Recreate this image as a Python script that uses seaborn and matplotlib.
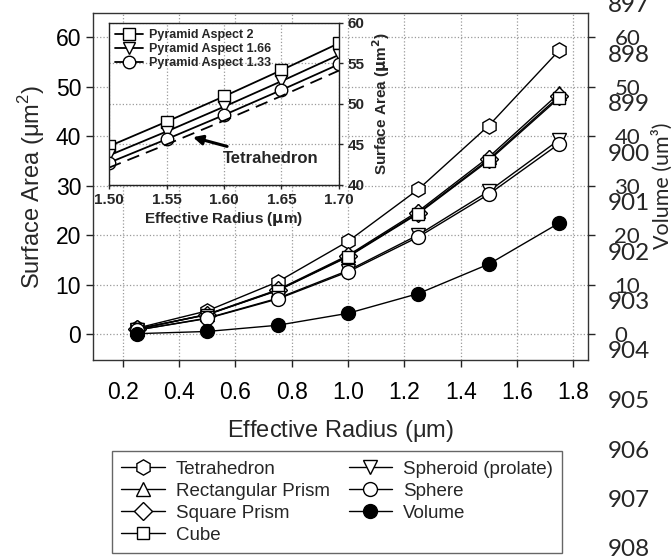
import matplotlib
matplotlib.use("Agg")
import matplotlib.pyplot as plt
import seaborn as sns
import pandas as pd

# ---------------- data ----------------
radius = [0.25, 0.50, 0.75, 1.00, 1.25, 1.50, 1.75]
tetrahedron = [1.17, 4.68, 10.54, 18.73, 29.27, 42.14, 57.36]
rect_prism = [0.99, 3.98, 8.94, 15.90, 24.84, 35.78, 48.69]
square_prism = [0.98, 3.93, 8.83, 15.70, 24.53, 35.33, 48.08]
cube = [0.97, 3.90, 8.77, 15.59, 24.36, 35.08, 47.75]
spheroid = [0.80, 3.21, 7.22, 12.83, 20.05, 28.87, 39.29]
sphere = [0.79, 3.14, 7.07, 12.57, 19.63, 28.27, 38.48]
volume = [0.07, 0.52, 1.77, 4.19, 8.18, 14.14, 22.45]
series_names = ["Tetrahedron", "Rectangular Prism", "Square Prism", "Cube",
                "Spheroid (prolate)", "Sphere", "Volume"]

inset_radius = [1.50, 1.55, 1.60, 1.65, 1.70]
pyramid_2 = [44.78, 47.81, 50.94, 54.18, 57.51]
pyramid_166 = [43.65, 46.60, 49.66, 52.82, 56.07]
pyramid_133 = [42.75, 45.65, 48.64, 51.73, 54.91]
inset_tetrahedron = [42.14, 45.00, 47.95, 50.99, 54.13]
inset_names = ["Pyramid Aspect 2", "Pyramid Aspect 1.66", "Pyramid Aspect 1.33"]

x_ticks = [0.2, 0.4, 0.6, 0.8, 1.0, 1.2, 1.4, 1.6, 1.8]
x_tick_labels = ["0.2", "0.4", "0.6", "0.8", "1.0", "1.2", "1.4", "1.6", "1.8"]
y_ticks = [0, 10, 20, 30, 40, 50, 60]
volume_ticks = [0, 10, 20, 30, 40, 50, 60]
inset_x_ticks = [1.50, 1.55, 1.60, 1.65, 1.70]
inset_x_labels = ["1.50", "1.55", "1.60", "1.65", "1.70"]
inset_y_ticks = [40, 45, 50, 55, 60]
line_numbers = ["897", "898", "899", "900", "901", "902", "903", "904",
                "905", "906", "907", "908"]

main_df = pd.DataFrame({
    "radius": radius * 7,
    "value": tetrahedron + rect_prism + square_prism + cube + spheroid + sphere + volume,
    "series": [n for n in series_names for _ in radius],
})
inset_df = pd.DataFrame({
    "radius": inset_radius * 4,
    "value": pyramid_2 + pyramid_166 + pyramid_133 + inset_tetrahedron,
    "series": [n for n in inset_names + ["Tetrahedron"] for _ in inset_radius],
})

# ---------------- style ----------------
sns.set_style("ticks")
plt.rcParams["font.family"] = ["Liberation Sans", "DejaVu Sans"]
plt.rcParams["mathtext.fontset"] = "custom"
plt.rcParams["mathtext.rm"] = "Liberation Sans"

fig = plt.figure(figsize=(6.72, 5.56), dpi=100)
W, H = 672, 556
ax = fig.add_axes([93 / W, 1 - 360 / H, (588 - 93) / W, (360 - 13) / H])

markers = {"Tetrahedron": "h", "Rectangular Prism": "^", "Square Prism": "D",
           "Cube": "s", "Spheroid (prolate)": "v", "Sphere": "o", "Volume": "o"}
msizes = {"Tetrahedron": 11, "Rectangular Prism": 10, "Square Prism": 9,
          "Cube": 8.5, "Spheroid (prolate)": 10, "Sphere": 10, "Volume": 10}

for name in series_names:
    sub = main_df[main_df["series"] == name]
    sns.lineplot(data=sub, x="radius", y="value", ax=ax, color="black",
                 linewidth=1.0, marker=markers[name], markersize=msizes[name],
                 markerfacecolor="black" if name == "Volume" else "white",
                 markeredgecolor="black", markeredgewidth=1.0, label=name)

handles, labels = ax.get_legend_handles_labels()
ax.get_legend().remove()

ax.set_xlim(0.095, 1.852)
ax.set_ylim(-5.25, 64.9)
ax.set_xticks(x_ticks)
ax.set_xticklabels(x_tick_labels)
ax.set_yticks(y_ticks)
ax.grid(True, linestyle=":", color="#9a9a9a", linewidth=0.9)
ax.tick_params(axis="both", direction="out", length=5, width=1,
               labelsize=16.5, colors="#222222", labelcolor="black", right=True)
ax.tick_params(axis="x", pad=10)
for s in ax.spines.values():
    s.set_visible(True)
    s.set_color("#333333")
    s.set_linewidth(1.0)
ax.set_xlabel("Effective Radius ($\\mathrm{\\mu}$m)", fontsize=17, labelpad=10)
ax.set_ylabel("Surface Area ($\\mathrm{\\mu}$m$^2$)", fontsize=17, labelpad=6)

# right "Volume" axis
ax2 = ax.twinx()
ax2.set_ylim(ax.get_ylim())
ax2.set_yticks(volume_ticks)
ax2.set_yticklabels([str(v) for v in volume_ticks], fontfamily="Lato", fontsize=16)
ax2.tick_params(axis="y", direction="out", length=5, width=1, pad=14)
for s in ax2.spines.values():
    s.set_visible(False)
fig.text(662 / W, 1 - 186 / H, "Volume (um³)", rotation=90, ha="center",
         va="center", fontsize=15.5, fontfamily="Lato")

for i, num in enumerate(line_numbers):
    fig.text(629 / W, 1 - (5.5 + 49.5 * i) / H, num, ha="center", va="center",
             fontsize=17.5, fontfamily="Lato")

# legend below
fig.legend(handles, labels, loc="upper left", bbox_to_anchor=(112 / W, 1 - 451 / H),
           ncol=2, fontsize=13.5, frameon=True, fancybox=False, edgecolor="#666666",
           framealpha=1, handlelength=2.3, handletextpad=0.6, columnspacing=1.0,
           labelspacing=0.26, borderpad=0.5, borderaxespad=0)

# ---------------- inset ----------------
axin = fig.add_axes([109 / W, 1 - 185 / H, (339 - 109) / W, (185 - 23) / H])
axin.set_facecolor("white")
in_markers = {"Pyramid Aspect 2": "s", "Pyramid Aspect 1.66": "v", "Pyramid Aspect 1.33": "o"}
for name in inset_names:
    sub = inset_df[inset_df["series"] == name]
    sns.lineplot(data=sub, x="radius", y="value", ax=axin, color="black",
                 linewidth=1.3, marker=in_markers[name], markersize=9,
                 markerfacecolor="white", markeredgecolor="black",
                 markeredgewidth=1.0, label=name)
sub = inset_df[inset_df["series"] == "Tetrahedron"]
sns.lineplot(data=sub, x="radius", y="value", ax=axin, color="black",
             linewidth=1.3, linestyle=(0, (7, 4)), legend=False)

axin.set_xlim(1.5, 1.7)
axin.set_ylim(40, 60)
axin.set_xticks(inset_x_ticks)
axin.set_xticklabels(inset_x_labels)
axin.set_yticks(inset_y_ticks)
axin.yaxis.tick_right()
axin.yaxis.set_label_position("right")
axin.grid(True, linestyle=":", color="#9a9a9a", linewidth=0.9)
axin.tick_params(axis="both", direction="out", length=3, width=1, labelsize=11,
                 pad=3)
for lab in axin.get_xticklabels() + axin.get_yticklabels():
    lab.set_fontweight("bold")
for s in axin.spines.values():
    s.set_visible(True)
    s.set_color("#222222")
    s.set_linewidth(1.0)
axin.set_xlabel("Effective Radius ($\\mathbf{\\mu}$m)", fontsize=11, fontweight="bold",
                labelpad=2)
axin.set_ylabel("Surface Area ($\\mathbf{\\mu}$m$^\\mathbf{2}$)", fontsize=11,
                fontweight="bold", labelpad=4)
leg = axin.legend(loc="upper left", frameon=False, prop={"weight": "bold", "size": 9},
                  handlelength=2.2, handletextpad=0.5, labelspacing=0.15,
                  borderpad=0.2, borderaxespad=0.3)
axin.annotate("Tetrahedron", xy=(1.573, 45.9), xytext=(1.641, 43.3),
              ha="center", va="center", fontsize=12, fontweight="bold",
              arrowprops=dict(arrowstyle="-|>", color="black", lw=2.2,
                              mutation_scale=14, shrinkA=3, shrinkB=0))

fig.savefig("out.png", dpi=100)
